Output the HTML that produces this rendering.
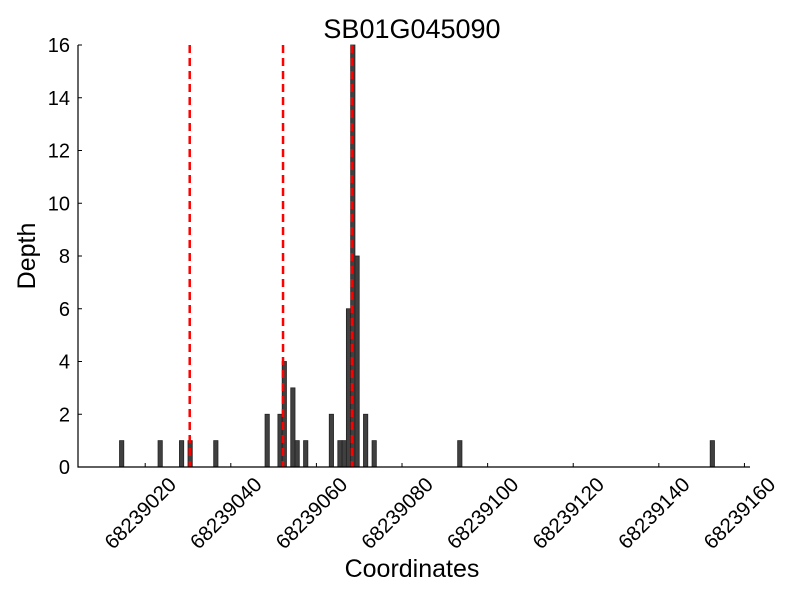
<!DOCTYPE html>
<html><head><meta charset="utf-8"><style>body{margin:0;background:#fff}svg text{font-family:"Liberation Sans",sans-serif}</style></head>
<body>
<svg id="chart" width="800" height="600" xmlns="http://www.w3.org/2000/svg">
<rect width="800" height="600" fill="#fff"/>
<text x="412" y="38" font-size="27" text-anchor="middle">SB01G045090</text>
<text x="412" y="577" font-size="25" text-anchor="middle">Coordinates</text>
<text transform="translate(35,256) rotate(-90)" font-size="25" text-anchor="middle">Depth</text>
<g id="bars"></g><g id="lines"></g><g id="axes"></g>
</svg>
<script>
const base = 68239000;
const positions = [14,23,28,30,36,48,51,52,54,55,57,63,65,66,67,68,69,71,73,93,152];
const depths = [1,1,1,1,1,2,2,4,3,1,1,2,1,1,6,16,8,2,1,1,1];
const markers = [30.4,52.2,68.3];
const xTicks = [20,40,60,80,100,120,140,160];
const yTicks = [0,2,4,6,8,10,12,14,16];
const L=78,R=750,T=45,B=467;
const xMin=4.3,xMax=161.3,yMax=16;
const X=v=>L+(v-xMin)/(xMax-xMin)*(R-L);
const Y=v=>B-v/yMax*(B-T);
const NS='http://www.w3.org/2000/svg';
function mk(tag,attrs,parent){const e=document.createElementNS(NS,tag);for(const k in attrs)e.setAttribute(k,attrs[k]);document.getElementById(parent).appendChild(e);return e;}
positions.forEach((p,i)=>{
 const e=mk('rect',{x:X(p),y:Y(depths[i]),width:X(p+1)-X(p),height:B-Y(depths[i]),fill:'#404040',stroke:'#222','stroke-width':0.8},'bars');
 
 
});
markers.forEach(m=>{
 const e=mk('line',{x1:X(m),x2:X(m),y1:T,y2:B,stroke:'#ff0000','stroke-width':2.5,'stroke-dasharray':'8,5'},'lines');
 
 
});
let a=mk('path',{d:`M${L},${T}V${B}H${R}`,fill:'none',stroke:'#000','stroke-width':1.2},'axes');


xTicks.forEach(t=>{
 const x=X(t);
 mk('line',{x1:x,x2:x,y1:B,y2:B-4,stroke:'#000'},'axes');
 const e=mk('text',{x:0,y:0,'font-size':20.5,'text-anchor':'middle',transform:`translate(${x},${518}) rotate(-45)`},'axes');
 e.textContent=String(base+t);
 
 
});
yTicks.forEach(t=>{
 const y=Y(t);
 mk('line',{x1:L,x2:L+4,y1:y,y2:y,stroke:'#000'},'axes');
 const e=mk('text',{x:L-8,y:y+7,'font-size':20,'text-anchor':'end'},'axes');
 e.textContent=t;
 
 
});
</script>
</body></html>
